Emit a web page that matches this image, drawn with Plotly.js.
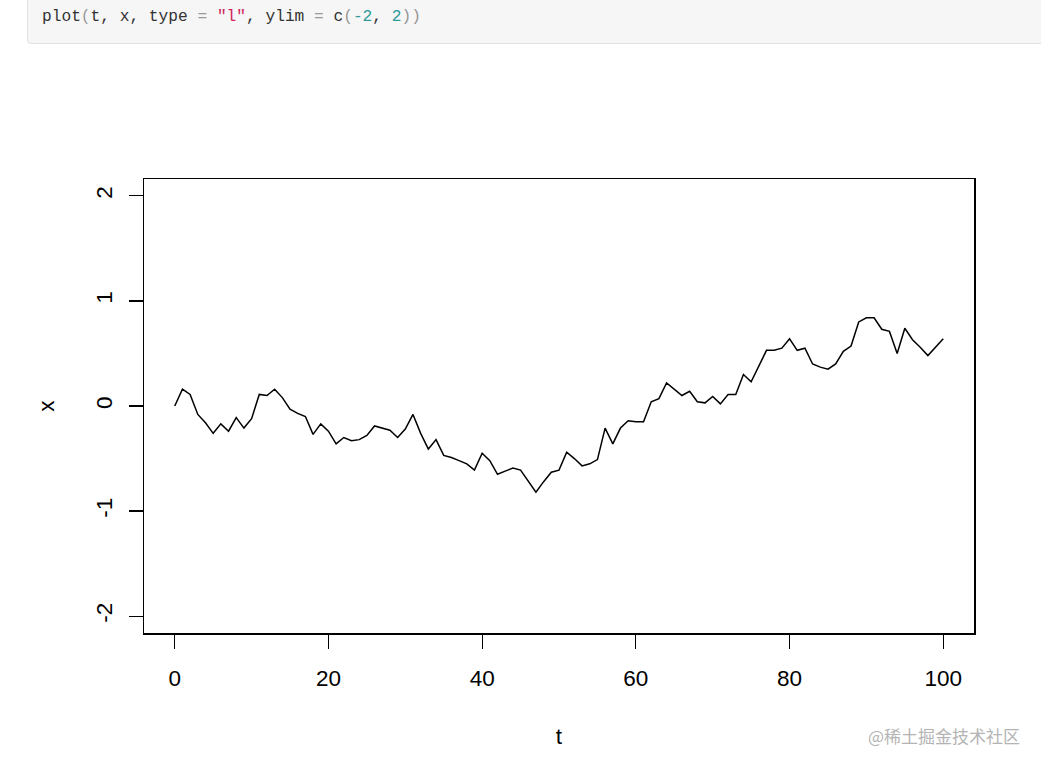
<!DOCTYPE html>
<html>
<head>
<meta charset="utf-8">
<script src="https://cdn.plot.ly/plotly-3.0.1.min.js"></script>
<style>
html, body { margin:0; padding:0; background:#fff; width:1041px; height:767px; overflow:hidden; }
#code { position:absolute; left:27px; top:-6px; width:1020px; height:50px; background:#f6f6f6; border:1px solid #e2e2e2; border-radius:4px; box-sizing:border-box; z-index:2; }
#code pre { margin:0; position:absolute; left:14px; top:13px; font-family:"Liberation Mono","DejaVu Sans Mono",monospace; font-size:16.2px; color:#333; }
.p { color:#999; } .s { color:#d0245a; } .n { color:#2e9a9a; }
#plot { position:absolute; left:0; top:0; width:1041px; height:767px; }
</style>
</head>
<body>
<div id="code"><pre>plot<span class="p">(</span>t, x, type <span class="p">=</span> <span class="s">"l"</span>, ylim <span class="p">=</span> c<span class="p">(</span><span class="n">-2</span>, <span class="n">2</span><span class="p">))</span></pre></div>
<div id="plot"></div>
<script>
const t = [];
for (let i = 0; i <= 100; i++) t.push(i);
const x = [
  0.00, 0.16, 0.11, -0.08, -0.16, -0.26, -0.17, -0.24, -0.11, -0.21,
  -0.12, 0.11, 0.10, 0.16, 0.08, -0.03, -0.07, -0.10, -0.27, -0.17,
  -0.24, -0.36, -0.30, -0.33, -0.32, -0.28, -0.19, -0.21, -0.23, -0.30,
  -0.22, -0.08, -0.26, -0.41, -0.32, -0.47, -0.49, -0.52, -0.55, -0.61,
  -0.45, -0.52, -0.65, -0.62, -0.59, -0.61, -0.71, -0.82, -0.72, -0.63,
  -0.61, -0.44, -0.50, -0.57, -0.55, -0.51, -0.21, -0.36, -0.21, -0.14,
  -0.15, -0.15, 0.04, 0.07, 0.22, 0.16, 0.10, 0.14, 0.04, 0.03,
  0.09, 0.02, 0.11, 0.11, 0.30, 0.23, 0.38, 0.53, 0.53, 0.55,
  0.64, 0.53, 0.55, 0.40, 0.37, 0.35, 0.40, 0.52, 0.57, 0.80,
  0.84, 0.84, 0.73, 0.71, 0.50, 0.74, 0.63, 0.56, 0.48, 0.56,
  0.64
];
const xTicks = [0, 20, 40, 60, 80, 100];
const yTicks = [-2, -1, 0, 1, 2];
const xLabel = "t";
const yLabel = "x";
const watermark = "@稀土掘金技术社区";

const font = {family: "Liberation Sans, Arial, sans-serif", size: 22.5, color: "#000"};

const trace = {
  x: t, y: x, type: "scatter", mode: "lines",
  line: {color: "#000", width: 1.5},
  hoverinfo: "skip"
};

const layout = {
  width: 1041, height: 767,
  margin: {l: 144, r: 67, t: 179, b: 134, pad: 0},
  paper_bgcolor: "rgba(0,0,0,0)", plot_bgcolor: "#fff",
  showlegend: false,
  font: font,
  xaxis: {
    range: [-4, 104], tickvals: xTicks, ticktext: xTicks.map(String),
    ticks: "outside", ticklen: 14, tickwidth: 1.2, tickcolor: "#000",
    showline: true, mirror: true, linecolor: "#000", linewidth: 1.5,
    showgrid: false, zeroline: false, ticklabelstandoff: 10,
    tickfont: font,
    title: {text: xLabel, font: font, standoff: 38}
  },
  yaxis: {
    range: [-2.16, 2.16], tickvals: yTicks, ticktext: yTicks.map(String),
    ticks: "outside", ticklen: 14, tickwidth: 1.2, tickcolor: "#000",
    showline: true, mirror: true, linecolor: "#000", linewidth: 1.5,
    showgrid: false, zeroline: false, tickangle: -90, ticklabelstandoff: 8,
    tickfont: font,
    title: {text: yLabel, font: font, standoff: 30}
  },
  annotations: [{
    text: watermark, xref: "paper", yref: "paper",
    x: 1.058, y: -0.225, xanchor: "right", yanchor: "middle", showarrow: false,
    font: {family: "Noto Sans CJK SC, sans-serif", size: 17, color: "#b4b4b4"}
  }]
};

Plotly.newPlot("plot", [trace], layout, {displayModeBar: false, staticPlot: true});
</script>
</body>
</html>
